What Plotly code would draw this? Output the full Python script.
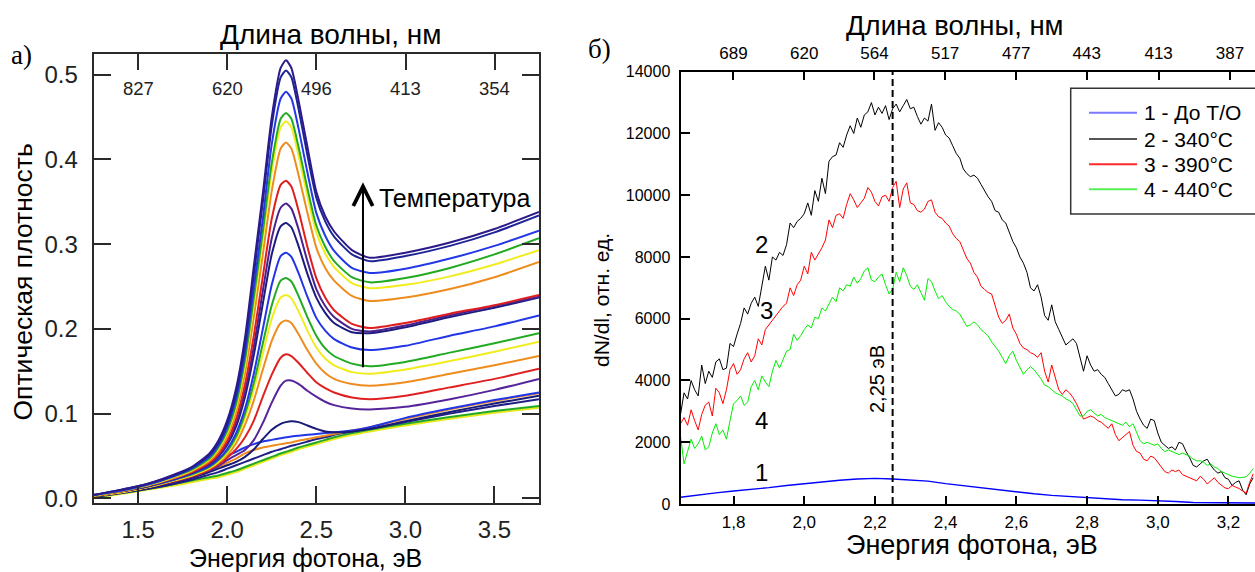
import plotly.graph_objects as go

W, H = 1255, 572

# ---------------- Panel a: optical density spectra ----------------
energy_a = [1.25, 1.4, 1.55, 1.7, 1.8, 1.9, 1.95, 2.0, 2.05, 2.1, 2.15, 2.2, 2.25,
            2.3, 2.33, 2.36, 2.4, 2.45, 2.5, 2.55, 2.6, 2.7, 2.8, 3.0, 3.25, 3.5, 3.75]

od_t1 = [0.004, 0.010, 0.017, 0.028, 0.037, 0.053, 0.068, 0.092, 0.13, 0.19, 0.275, 0.36, 0.45,
         0.508, 0.517, 0.508, 0.47, 0.415, 0.362, 0.333, 0.315, 0.293, 0.284, 0.29, 0.302, 0.318, 0.338]
od_t2 = [0.004, 0.010, 0.017, 0.027, 0.036, 0.051, 0.065, 0.088, 0.124, 0.182, 0.265, 0.35, 0.44,
         0.497, 0.505, 0.497, 0.46, 0.405, 0.355, 0.327, 0.309, 0.288, 0.280, 0.286, 0.298, 0.314, 0.334]
od_t3 = [0.004, 0.009, 0.016, 0.026, 0.035, 0.049, 0.062, 0.084, 0.118, 0.172, 0.25, 0.33, 0.418,
         0.472, 0.48, 0.472, 0.437, 0.385, 0.337, 0.31, 0.292, 0.272, 0.266, 0.271, 0.283, 0.298, 0.316]
od_t4 = [0.004, 0.009, 0.016, 0.026, 0.034, 0.047, 0.06, 0.08, 0.112, 0.164, 0.238, 0.315, 0.396,
         0.448, 0.455, 0.448, 0.415, 0.366, 0.322, 0.297, 0.28, 0.261, 0.255, 0.26, 0.272, 0.288, 0.307]
od_t5 = [0.003, 0.009, 0.015, 0.025, 0.033, 0.046, 0.058, 0.077, 0.108, 0.158, 0.23, 0.306, 0.386,
         0.438, 0.445, 0.438, 0.405, 0.357, 0.314, 0.289, 0.273, 0.254, 0.248, 0.252, 0.262, 0.276, 0.293]
od_t6 = [0.003, 0.008, 0.015, 0.024, 0.032, 0.044, 0.055, 0.073, 0.102, 0.148, 0.215, 0.288, 0.363,
         0.413, 0.42, 0.413, 0.382, 0.337, 0.296, 0.272, 0.257, 0.239, 0.233, 0.237, 0.247, 0.261, 0.279]
od_m1 = [0.003, 0.008, 0.015, 0.024, 0.031, 0.042, 0.052, 0.068, 0.094, 0.135, 0.193, 0.262, 0.33,
         0.37, 0.375, 0.368, 0.34, 0.297, 0.26, 0.237, 0.222, 0.206, 0.201, 0.207, 0.218, 0.228, 0.240]
od_m2 = [0.003, 0.008, 0.014, 0.023, 0.03, 0.041, 0.05, 0.065, 0.089, 0.127, 0.18, 0.245, 0.307,
         0.343, 0.348, 0.342, 0.318, 0.28, 0.247, 0.227, 0.214, 0.2, 0.197, 0.204, 0.216, 0.227, 0.238]
od_m3 = [0.003, 0.008, 0.014, 0.023, 0.03, 0.04, 0.049, 0.063, 0.085, 0.12, 0.17, 0.23, 0.288,
         0.321, 0.325, 0.32, 0.298, 0.265, 0.237, 0.219, 0.207, 0.196, 0.195, 0.202, 0.214, 0.225, 0.237]
od_l1 = [0.003, 0.008, 0.014, 0.022, 0.029, 0.038, 0.046, 0.058, 0.077, 0.106, 0.148, 0.2, 0.252,
         0.286, 0.29, 0.285, 0.266, 0.238, 0.213, 0.198, 0.188, 0.178, 0.175, 0.18, 0.192, 0.203, 0.216]
od_l2 = [0.003, 0.008, 0.014, 0.022, 0.028, 0.037, 0.045, 0.056, 0.073, 0.1, 0.137, 0.183, 0.228,
         0.257, 0.26, 0.256, 0.239, 0.214, 0.192, 0.177, 0.168, 0.159, 0.156, 0.161, 0.172, 0.183, 0.195]
od_l3 = [0.003, 0.007, 0.013, 0.021, 0.027, 0.036, 0.043, 0.054, 0.07, 0.095, 0.129, 0.171, 0.212,
         0.237, 0.24, 0.236, 0.221, 0.198, 0.178, 0.165, 0.157, 0.149, 0.147, 0.152, 0.162, 0.173, 0.185]
od_l4 = [0.003, 0.007, 0.013, 0.021, 0.027, 0.035, 0.042, 0.051, 0.065, 0.087, 0.116, 0.152, 0.186,
         0.207, 0.21, 0.207, 0.194, 0.175, 0.159, 0.148, 0.141, 0.135, 0.133, 0.137, 0.147, 0.157, 0.168]
od_l5 = [0.003, 0.007, 0.013, 0.02, 0.026, 0.034, 0.04, 0.048, 0.058, 0.072, 0.092, 0.12, 0.146,
         0.166, 0.17, 0.168, 0.16, 0.148, 0.137, 0.13, 0.125, 0.119, 0.117, 0.121, 0.131, 0.141, 0.153]
od_l6 = [0.003, 0.007, 0.013, 0.02, 0.025, 0.033, 0.038, 0.045, 0.051, 0.057, 0.069, 0.089, 0.113,
         0.133, 0.139, 0.139, 0.135, 0.127, 0.12, 0.114, 0.11, 0.106, 0.105, 0.108, 0.117, 0.128, 0.141]
od_l7 = [0.002, 0.007, 0.012, 0.019, 0.024, 0.031, 0.035, 0.039, 0.043, 0.049, 0.058, 0.07, 0.081,
         0.088, 0.09, 0.091, 0.09, 0.086, 0.082, 0.079, 0.078, 0.079, 0.082, 0.091, 0.102, 0.112, 0.121]
od_f1 = [0.003, 0.008, 0.014, 0.021, 0.027, 0.037, 0.045, 0.05, 0.055, 0.06, 0.064, 0.067, 0.069,
         0.071, 0.072, 0.073, 0.074, 0.075, 0.076, 0.077, 0.078, 0.080, 0.084, 0.095, 0.106, 0.116, 0.125]
od_f2 = [0.003, 0.008, 0.013, 0.02, 0.025, 0.032, 0.037, 0.042, 0.047, 0.053, 0.057, 0.06, 0.062,
         0.064, 0.065, 0.066, 0.068, 0.070, 0.072, 0.074, 0.076, 0.080, 0.084, 0.094, 0.105, 0.115, 0.124]
od_f3 = [0.002, 0.006, 0.011, 0.017, 0.022, 0.028, 0.031, 0.035, 0.039, 0.043, 0.047, 0.051, 0.055,
         0.058, 0.06, 0.062, 0.064, 0.067, 0.07, 0.072, 0.075, 0.079, 0.082, 0.09, 0.1, 0.109, 0.117]
od_f4 = [0.001, 0.006, 0.011, 0.017, 0.021, 0.025, 0.027, 0.030, 0.033, 0.037, 0.041, 0.045, 0.049,
         0.053, 0.055, 0.057, 0.060, 0.063, 0.066, 0.069, 0.072, 0.077, 0.081, 0.088, 0.096, 0.103, 0.109]
od_f5 = [0.000, 0.005, 0.010, 0.015, 0.019, 0.023, 0.025, 0.028, 0.031, 0.035, 0.039, 0.043, 0.047,
         0.051, 0.053, 0.055, 0.058, 0.061, 0.064, 0.067, 0.070, 0.075, 0.079, 0.086, 0.094, 0.101, 0.107]

curves_a = [od_f5, od_f4, od_f3, od_f2, od_f1, od_l7, od_l6, od_l5, od_l4, od_l3, od_l2, od_l1,
            od_m3, od_m2, od_m1, od_t6, od_t5, od_t4, od_t3, od_t2, od_t1]
colors_a = ["#e8e81c", "#22a822", "#1f1f86", "#ee8c1e", "#2236e8", "#1a1a78", "#55249a", "#e02020",
            "#ee8c1e", "#f0ec1e", "#22aa22", "#2236e8", "#1c1c80", "#4a2290", "#e01e1e",
            "#ee8c1e", "#f0ec1e", "#22aa22", "#2438e6", "#1e2496", "#2c1a8a"]

wavelength_a = [827, 620, 496, 413, 354]
energy_ticks_a = [1.5, 2.0, 2.5, 3.0, 3.5]
od_ticks = [0.0, 0.1, 0.2, 0.3, 0.4, 0.5]

# ---------------- Panel b: dN/dl spectra ----------------
e_b_start, e_b_step = 1.65, 0.01
blue_step = 0.05
dn_blue = [220, 300, 360, 420, 470, 530, 600, 660, 720, 770, 810, 830, 810, 780, 740, 660, 590,
           520, 460, 390, 330, 280, 240, 200, 170, 140, 125, 110, 80, 50, 40, 35, 30, 30]
dn_black = [2900, 3600, 3400, 4000, 3700, 3500, 4500, 3900, 4300, 4100,
            4600, 4700, 4350, 4400, 5200, 5100, 5500, 5850, 6350, 6150,
            6500, 6700, 6400, 7000, 7700, 7250, 8000, 7900, 8150, 8050,
            8400, 9100, 8950, 9150, 9250, 9400, 9750, 9350, 10150, 9800,
            10550, 10050, 11100, 11250, 11300, 11700, 11550, 11950, 12250, 12000,
            12500, 12200, 12600, 12700, 13000, 12600, 12850, 12650, 12900, 12450,
            12800, 12950, 12700, 12900, 13100, 12800, 12850, 12550, 12300, 12500,
            12400, 12950, 12100, 12350, 12200, 11950, 11850, 11600, 11350, 11200,
            10850, 10700, 10600, 10650, 10550, 10350, 10150, 9950, 9800, 9500,
            9450, 9200, 9100, 8800, 8500, 8300, 8000, 7800, 7500, 7000,
            6900, 7100, 6700, 6100, 5950, 6450, 5900, 5650, 5400, 5150,
            5250, 5350, 5200, 4700, 4300, 4800, 4500, 4300, 4350, 4200,
            4100, 3900, 3700, 3500, 3550, 3700, 3650, 3700, 3400, 3000,
            2750, 2550, 2450, 2750, 2700, 2300, 2000, 1900, 1800, 1850,
            1750, 2000, 1950, 1700, 1500, 1250, 1200, 1300, 1400, 1450,
            1250, 1100, 1000, 1050, 850, 800, 600, 700, 750, 450,
            300, 650, 850]
dn_red = [2600, 2800, 2550, 3050, 2700, 2400, 2900, 3200, 3300, 2850,
          3750, 3600, 3250, 3700, 4350, 4550, 4200, 4350, 4700, 4900,
          4600, 4800, 5350, 5150, 5650, 5800, 5950, 6100, 6250, 6400,
          6500, 7000, 6750, 7100, 7250, 7700, 7450, 8150, 7900, 8100,
          8300, 8550, 9200, 8950, 9350, 9400, 9250, 9700, 10050, 9850,
          9600, 9750, 9900, 10250, 10100, 9800, 9650, 9950, 10000, 9800,
          10250, 10450, 9600, 10200, 10400, 9750, 9700, 9500, 9450, 9550,
          9800, 9850, 9450, 9300, 9250, 9100, 9000, 8750, 8600, 8500,
          8200, 7950, 7800, 7500, 7350, 7050, 6950, 6850, 6800, 6400,
          6050, 5850, 5950, 6150, 5700, 5500, 5200, 5050, 5000, 4900,
          4850, 4750, 4900, 4300, 3950, 4500, 4100, 3700, 3550, 3700,
          3600, 3450, 3250, 3000, 2750, 2800, 2850, 2800, 2700, 2650,
          2550, 2450, 2600, 2250, 2050, 2150, 2250, 2350, 1900, 1700,
          1650, 1450, 1400, 1550, 1500, 1350, 1200, 1050, 1000, 1100,
          1050, 1100, 950, 900, 850, 800, 750, 900, 800, 650,
          750, 850, 700, 600, 520, 500, 600, 550, 500, 420,
          350, 700, 980]
dn_green = [2200, 1300, 1700, 2100, 1800, 1950, 2200, 1750, 1850, 2300,
            2600, 2250, 2400, 2100, 2700, 3250, 3350, 3500, 3200, 3300,
            3800, 4000, 3700, 4150, 3950, 3800, 4300, 4650, 4400, 4700,
            4950, 5000, 5500, 5300, 5450, 5650, 5800, 5700, 6050, 6000,
            6350, 6250, 6500, 6700, 6550, 7000, 6900, 7100, 7050, 7350,
            7150, 7300, 7550, 7650, 7250, 7200, 7350, 7450, 7100, 6800,
            6950, 7500, 7200, 7650, 7400, 7050, 6950, 7100, 6850, 6600,
            7300, 7200, 6900, 6650, 6750, 6550, 6400, 6300, 6250, 6150,
            5950, 5750, 5800, 5900, 5800, 5650, 5550, 5450, 5250, 5100,
            4950, 4750, 4550, 4800, 4950, 4650, 4400, 4200, 4350, 4450,
            4350, 4200, 4050, 3850, 3800, 3700, 3600, 3550, 3500, 3400,
            3350, 3250, 3050, 2850, 2850, 3000, 3050, 2950, 2850, 2900,
            2800, 2750, 2700, 2650, 2600, 2550, 2650, 2500, 2600, 2300,
            2050, 1950, 2000, 1950, 1900, 1950, 1800, 1700, 1750, 1700,
            1650, 1600, 1650, 1600, 1550, 1450, 1400, 1400, 1350, 1250,
            1300, 1200, 1150, 1050, 1000, 950, 900, 880, 850, 860,
            880, 1000, 1150]

series_names_b = ["1 - До Т/О", "2 - 340°C", "3 - 390°C", "4 - 440°C"]
series_colors_b = ["#0000ff", "#000000", "#ff0000", "#00ee00"]
legend_colors_b = ["#7a7aff", "#555555", "#ff2a2a", "#55ee55"]
curve_labels_b = ["1", "2", "3", "4"]

wavelength_b = [689, 620, 564, 517, 477, 443, 413, 387]
energy_ticks_b = [1.8, 2.0, 2.2, 2.4, 2.6, 2.8, 3.0, 3.2]
energy_ticktext_b = ["1,8", "2,0", "2,2", "2,4", "2,6", "2,8", "3,0", "3,2"]
dn_ticks = [0, 2000, 4000, 6000, 8000, 10000, 12000, 14000]
peak_energy_b = 2.25


def fx(p):
    return p / W


def fy(p):
    return 1 - p / H


fig = go.Figure()

for vals, col in zip(curves_a, colors_a):
    fig.add_trace(go.Scatter(x=energy_a, y=vals, mode="lines", xaxis="x", yaxis="y",
                             line=dict(color=col, width=2, shape="spline", smoothing=0.6),
                             showlegend=False, hoverinfo="skip"))
fig.add_trace(go.Scatter(x=[], y=[], xaxis="x3", yaxis="y", showlegend=False))

fig.add_trace(go.Scatter(x0=e_b_start, dx=blue_step, y=dn_blue, mode="lines", xaxis="x2", yaxis="y2",
                         line=dict(color=series_colors_b[0], width=1.4), name=series_names_b[0],
                         showlegend=False))
for vals, name, col in zip([dn_black, dn_red, dn_green], series_names_b[1:], series_colors_b[1:]):
    fig.add_trace(go.Scatter(x0=e_b_start, dx=e_b_step, y=vals, mode="lines", xaxis="x2", yaxis="y2",
                             line=dict(color=col, width=1), name=name, showlegend=False))
fig.add_trace(go.Scatter(x=[], y=[], xaxis="x4", yaxis="y2", showlegend=False))

axc_a = "#2a2a2a"
font_main = "Liberation Sans, Arial, sans-serif"

fig.update_layout(
    width=W, height=H, margin=dict(l=0, r=0, t=0, b=0),
    paper_bgcolor="white", plot_bgcolor="white",
    font=dict(family=font_main, color="black"),
    template="none",
    xaxis=dict(domain=[fx(93.6), fx(539)], anchor="y", range=[1.25, 3.75],
               tickvals=energy_ticks_a, tickformat=".1f", ticks="inside", ticklen=17, tickwidth=2,
               tickcolor=axc_a, showline=True, linewidth=2, linecolor=axc_a, showgrid=False,
               zeroline=False, tickfont=dict(size=24, color="#222"), ticklabelstandoff=4),
    xaxis3=dict(overlaying="x", side="top", anchor="y", range=[1.25, 3.75],
                tickvals=[1240 / w for w in wavelength_a], showticklabels=False,
                ticks="inside", ticklen=16, tickwidth=2, tickcolor=axc_a, showline=True, linewidth=2,
                linecolor=axc_a, showgrid=False, zeroline=False),
    yaxis=dict(domain=[fy(503), fy(54)], anchor="x", range=[-0.0055, 0.5245],
               tickvals=od_ticks, tickformat=".1f", ticks="inside", ticklen=17, tickwidth=2,
               tickcolor=axc_a, showline=True, linewidth=2, linecolor=axc_a, mirror="ticks",
               showgrid=False, zeroline=False, tickfont=dict(size=24, color="#222"),
               ticklabelstandoff=9),
    xaxis2=dict(domain=[fx(680.5), 1.0], anchor="y2", range=[1.65, 3.275],
                tickvals=energy_ticks_b, ticktext=energy_ticktext_b, ticks="inside", ticklen=8,
                tickwidth=2, tickcolor="black", showline=True, linewidth=2, linecolor="black",
                showgrid=False, zeroline=False, tickfont=dict(size=17), ticklabelstandoff=2),
    xaxis4=dict(overlaying="x2", side="top", anchor="y2", range=[1.65, 3.275],
                tickvals=[1240 / w for w in wavelength_b], ticktext=[str(w) for w in wavelength_b],
                ticks="inside", ticklen=8, tickwidth=2, tickcolor="black", showline=True,
                linewidth=2, linecolor="black", showgrid=False, zeroline=False,
                tickfont=dict(size=17), ticklabelstandoff=4),
    yaxis2=dict(domain=[fy(504), fy(71.7)], anchor="x2", range=[0, 14000],
                tickvals=dn_ticks, tickformat="d", ticks="inside", ticklen=9, tickwidth=2,
                tickcolor="black", showline=True, linewidth=2, linecolor="black", showgrid=False,
                zeroline=False, tickfont=dict(size=16), ticklabelstandoff=5),
    showlegend=False,
)


def txt(text, x, y, size, **kw):
    d = dict(text=text, x=fx(x), y=fy(y), xref="paper", yref="paper", showarrow=False,
             xanchor="center", yanchor="middle", font=dict(size=size))
    d.update(kw)
    return d


serif = "Liberation Serif, Times New Roman, serif"
ann = []
# panel a texts
ann.append(txt("а)", 21, 55, 27, font=dict(family=serif, size=27)))
ann.append(txt("Длина волны, нм", 330.5, 35, 28))
ann.append(txt("Энергия фотона, эВ", 305, 558, 25))
ann.append(txt("Оптическая плотность", 22.5, 282, 26.5, textangle=-90))
ann.append(txt("Температура", 377, 198, 25, xanchor="left"))
for w in wavelength_a:
    ann.append(dict(text=str(w), x=1240 / w, y=fy(88.3), xref="x", yref="paper", showarrow=False,
                    xanchor="center", yanchor="middle", font=dict(size=18.5, color="#222")))
ann.append(dict(text="", x=2.762, y=0.373, xref="x", yref="y", ax=2.762, ay=0.153, axref="x",
                ayref="y", showarrow=True, arrowhead=5, arrowsize=1.9, arrowwidth=2,
                arrowcolor="black"))
# panel b texts
ann.append(txt("б)", 599, 49, 27, font=dict(family=serif, size=27)))
ann.append(txt("Длина волны, нм", 955, 25, 27.5))
ann.append(txt("Энергия фотона, эВ", 972, 545, 27))
ann.append(txt("dN/dl, отн. ед.", 601, 300, 21, textangle=-90))
ann.append(txt("2,25 эВ", 877, 379, 20, textangle=-90))
for lab, (px_, py_) in zip(curve_labels_b, [(761, 473), (761.7, 244), (766, 310), (761, 420)]):
    ann.append(txt(lab, px_, py_, 24))
# manual legend
row_y = [112.7, 139, 164.3, 189.3]
shapes = [dict(type="rect", xref="paper", yref="paper", x0=fx(1070.7), x1=fx(1262),
               y0=fy(214), y1=fy(88.3), line=dict(color="#333", width=1.5), fillcolor="white",
               layer="above")]
for name, col, ry in zip(series_names_b, legend_colors_b, row_y):
    shapes.append(dict(type="line", xref="paper", yref="paper", x0=fx(1089), x1=fx(1137),
                       y0=fy(ry), y1=fy(ry), line=dict(color=col, width=2), layer="above"))
    ann.append(txt(name, 1142, ry, 21, xanchor="left"))
shapes.append(dict(type="line", xref="x2", yref="y2", x0=peak_energy_b, x1=peak_energy_b,
                   y0=0, y1=14000, line=dict(color="black", width=2, dash="7px,4px")))

fig.update_layout(annotations=ann, shapes=shapes)
fig.write_html("out.html", config={"displayModeBar": False},
               post_script="document.body.style.margin='0px';document.body.style.overflow='hidden';")
